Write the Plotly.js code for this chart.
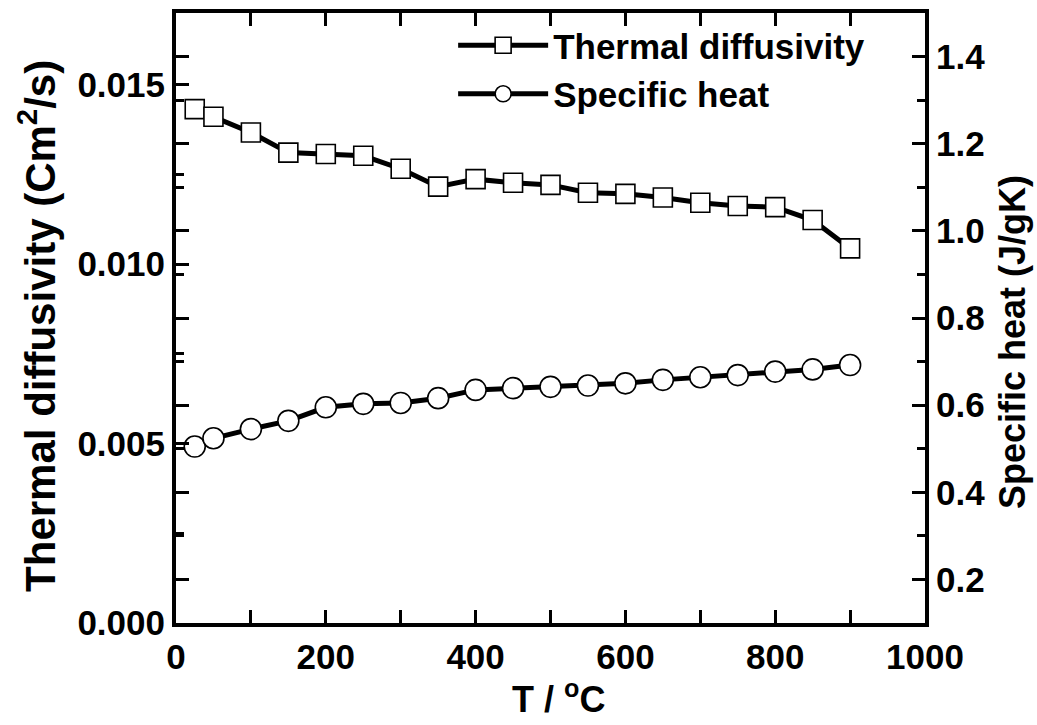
<!DOCTYPE html>
<html>
<head>
<meta charset="utf-8">
<script src="https://cdn.plot.ly/plotly-3.0.1.min.js"></script>
<style>html,body{margin:0;padding:0;background:#fff;}#chart{width:1037px;height:725px;}</style>
</head>
<body>
<div id="chart"></div>
<script>
const temperatures = [25, 50, 100, 150, 200, 250, 300, 350, 400, 450, 500, 550, 600, 650, 700, 750, 800, 850, 900];
const thermalDiffusivity = [0.01432, 0.01411, 0.01367, 0.01311, 0.01307, 0.01302, 0.01266, 0.01216, 0.01237, 0.01227, 0.01221, 0.01199, 0.01196, 0.01186, 0.01171, 0.01162, 0.01159, 0.01123, 0.01044];
const specificHeat = [0.505, 0.524, 0.545, 0.564, 0.595, 0.603, 0.605, 0.616, 0.635, 0.639, 0.642, 0.645, 0.650, 0.658, 0.664, 0.669, 0.677, 0.682, 0.692];
const seriesNames = ['Thermal diffusivity', 'Specific heat'];
const axisTitles = {x: 'T / <sup>o</sup>C', y: 'Thermal diffusivity (Cm<sup>2</sup>/s)', y2: 'Specific heat (J/gK)'};

const FONT = 'Liberation Sans, Arial, sans-serif';
const tickFont = {family: FONT, size: 35, color: '#000', weight: 700};

const traces = [
  {
    x: temperatures, y: thermalDiffusivity, name: seriesNames[0], type: 'scatter', mode: 'lines+markers',
    line: {color: '#000', width: 5},
    marker: {symbol: 'square', size: 19, color: '#fff', line: {color: '#000', width: 1.6}},
    yaxis: 'y'
  },
  {
    x: temperatures, y: specificHeat, name: seriesNames[1], type: 'scatter', mode: 'lines+markers',
    line: {color: '#000', width: 5},
    marker: {symbol: 'circle', size: 21, color: '#fff', line: {color: '#000', width: 1.6}},
    yaxis: 'y2'
  },
  {x: [], y: [], yaxis: 'y3', showlegend: false, hoverinfo: 'skip'}
];

const layout = {
  width: 1037, height: 725,
  margin: {l: 176, r: 112, t: 13, b: 102},
  paper_bgcolor: '#fff', plot_bgcolor: '#fff',
  showlegend: true,
  legend: {
    x: 0.37, y: 0.995, xanchor: 'left', yanchor: 'top',
    bgcolor: 'rgba(0,0,0,0)', itemwidth: 90,
    font: {family: FONT, size: 35, color: '#000', weight: 700},
    tracegroupgap: 0
  },
  xaxis: {
    range: [0, 1000], dtick: 200, tick0: 0,
    ticks: 'inside', ticklen: 13, tickwidth: 3, tickcolor: '#000',
    minor: {dtick: 100, ticks: 'inside', ticklen: 8, tickwidth: 3, tickcolor: '#000'},
    showline: true, linewidth: 4, linecolor: '#000', mirror: 'allticks',
    showgrid: false, zeroline: false,
    tickfont: tickFont
  },
  yaxis: {
    range: [0, 0.017], dtick: 0.005, tick0: 0, tickformat: '.3f',
    ticks: 'inside', ticklen: 13, tickwidth: 3, tickcolor: '#000',
    minor: {dtick: 0.0025, ticks: 'inside', ticklen: 8, tickwidth: 3, tickcolor: '#000'},
    showline: true, linewidth: 4, linecolor: '#000', mirror: false,
    showgrid: false, zeroline: false,
    tickfont: tickFont
  },
  yaxis2: {
    range: [0.1, 1.5], dtick: 0.2, tick0: 0.2, tickformat: '.1f',
    overlaying: 'y', side: 'right', anchor: 'x',
    ticks: 'inside', ticklen: 13, tickwidth: 3, tickcolor: '#000',
    minor: {dtick: 0.1, ticks: 'inside', ticklen: 8, tickwidth: 3, tickcolor: '#000'},
    showline: true, linewidth: 4, linecolor: '#000',
    showgrid: false, zeroline: false,
    tickfont: tickFont
  },
  yaxis3: {
    range: [0.1, 1.5], dtick: 0.2, tick0: 0.2,
    overlaying: 'y', side: 'left', anchor: 'x',
    ticks: 'inside', ticklen: 13, tickwidth: 3, tickcolor: '#000',
    minor: {dtick: 0.1, ticks: 'inside', ticklen: 8, tickwidth: 3, tickcolor: '#000'},
    showticklabels: false, showline: false,
    showgrid: false, zeroline: false
  },
  annotations: [
    {
      text: axisTitles.y, textangle: -90,
      xref: 'paper', yref: 'paper', x: -0.1856, y: 0.487, xanchor: 'center', yanchor: 'middle',
      showarrow: false,
      font: {family: FONT, size: 42, color: '#000', weight: 700}
    },
    {
      text: axisTitles.y2, textangle: -90,
      xref: 'paper', yref: 'paper', x: 1.1175, y: 0.4607, xanchor: 'center', yanchor: 'middle',
      showarrow: false,
      font: {family: FONT, size: 36, color: '#000', weight: 700}
    },
    {
      text: axisTitles.x,
      xref: 'paper', yref: 'paper', x: 0.511, y: -0.122, xanchor: 'center', yanchor: 'middle',
      showarrow: false,
      font: {family: FONT, size: 36, color: '#000', weight: 700}
    }
  ]
};

Plotly.newPlot('chart', traces, layout, {staticPlot: true, displayModeBar: false});
</script>
</body>
</html>
